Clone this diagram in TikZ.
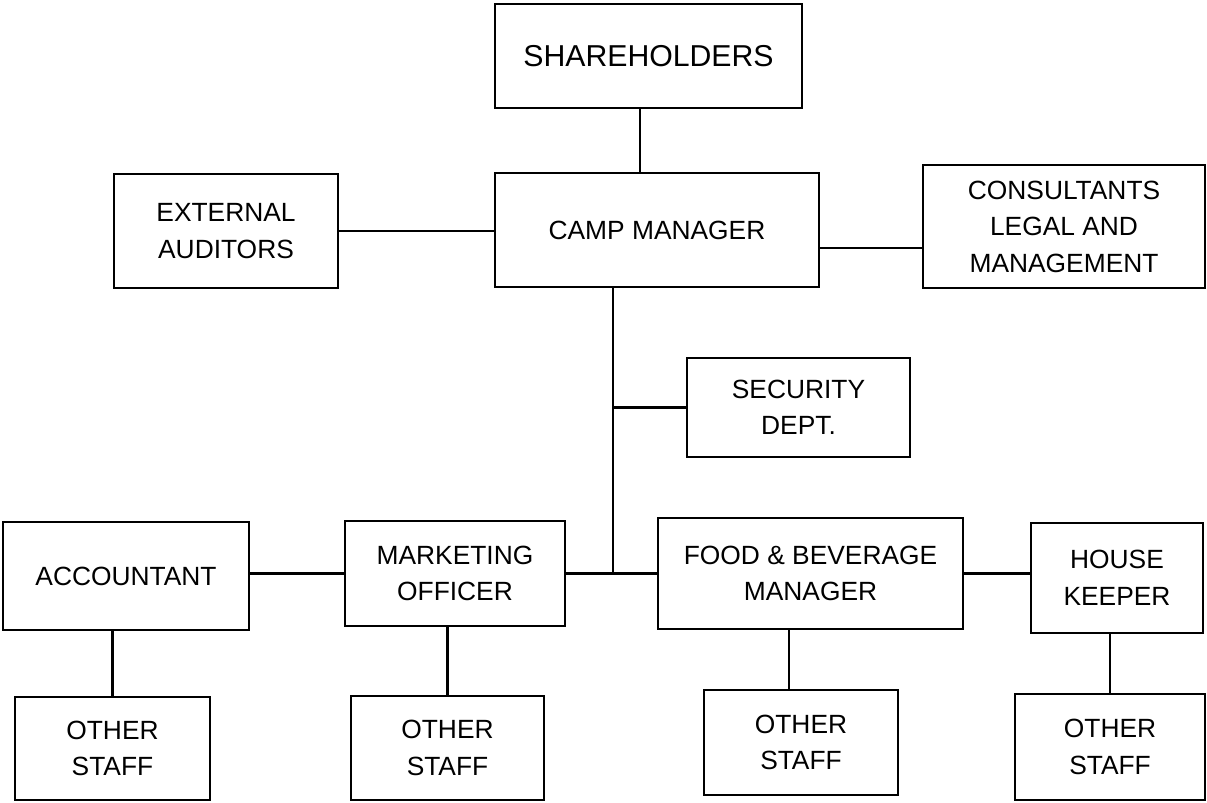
\documentclass[tikz,border=0pt]{standalone}
\usepackage{fontspec}
\setmainfont{Liberation Sans}
\usetikzlibrary{calc}

\begin{document}
\begin{tikzpicture}[line width=.6pt,
        unit/.style={rectangle,draw,inner sep=0pt,align=center,
            font=\fontsize{7.5}{10.4}\selectfont}]

    \useasboundingbox (0,0) rectangle (12.07,8.02);

    % top of the chart
    \node[unit] [minimum width=3.07cm,minimum height=1.04cm,font=\fontsize{8.6}{10.4}\selectfont] (sh) at (6.485,7.46) {SHAREHOLDERS};
    \node[unit] [minimum width=3.24cm,minimum height=1.14cm] (cm) at (6.57,5.72) {CAMP MANAGER};
    \node[unit] [minimum width=2.24cm,minimum height=1.14cm] (ea) at (2.26,5.71) {EXTERNAL\\AUDITORS};
    \node[unit] [minimum width=2.82cm,minimum height=1.23cm] (cons) at (10.64,5.755) {CONSULTANTS\\LEGAL AND\\MANAGEMENT};
    \node[unit] [minimum width=2.23cm,minimum height=.99cm] (sec) at (7.985,3.945) {SECURITY\\DEPT.};

    % departments
    \node[unit] [minimum width=2.46cm,minimum height=1.08cm] (acc) at (1.26,2.26) {ACCOUNTANT};
    \node[unit] [minimum width=2.20cm,minimum height=1.05cm] (mkt) at (4.55,2.285) {MARKETING\\OFFICER};
    \node[unit] [minimum width=3.05cm,minimum height=1.11cm] (fb) at (8.105,2.285) {FOOD \& BEVERAGE\\MANAGER};
    \node[unit] [minimum width=1.72cm,minimum height=1.10cm] (hk) at (11.17,2.24) {HOUSE\\KEEPER};

    % staff
    \node[unit] [minimum width=1.95cm,minimum height=1.03cm] (os1) at (1.125,.535) {OTHER\\STAFF};
    \node[unit] [minimum width=1.93cm,minimum height=1.04cm] (os2) at (4.475,.54) {OTHER\\STAFF};
    \node[unit] [minimum width=1.94cm,minimum height=1.05cm] (os3) at (8.01,.595) {OTHER\\STAFF};
    \node[unit] [minimum width=1.90cm,minimum height=1.06cm] (os4) at (11.10,.55) {OTHER\\STAFF};

    \coordinate (trunk) at (6.13,2.285);

    \path
    ([xshift=-.085cm]sh.south) edge ([xshift=-.085cm]sh.south |- cm.north)
    (ea.east) edge (ea.east -| cm.west)
    ([yshift=-.18cm]cm.east) edge ([yshift=-.18cm]cm.east -| cons.west)
    (trunk |- cm.south) edge (trunk)
    (sec.west) edge (sec.west -| trunk)
    (mkt.east) edge (fb.west)
    (mkt.west) edge (mkt.west -| acc.east)
    (fb.east) edge (fb.east -| hk.west)
    (os1.north) edge (os1.north |- acc.south)
    (os2.north) edge (os2.north |- mkt.south)
    ([xshift=-.12cm]os3.north) edge ([xshift=-.12cm]os3.north |- fb.south)
    (os4.north) edge (os4.north |- hk.south)
    ;
\end{tikzpicture}
\end{document}
